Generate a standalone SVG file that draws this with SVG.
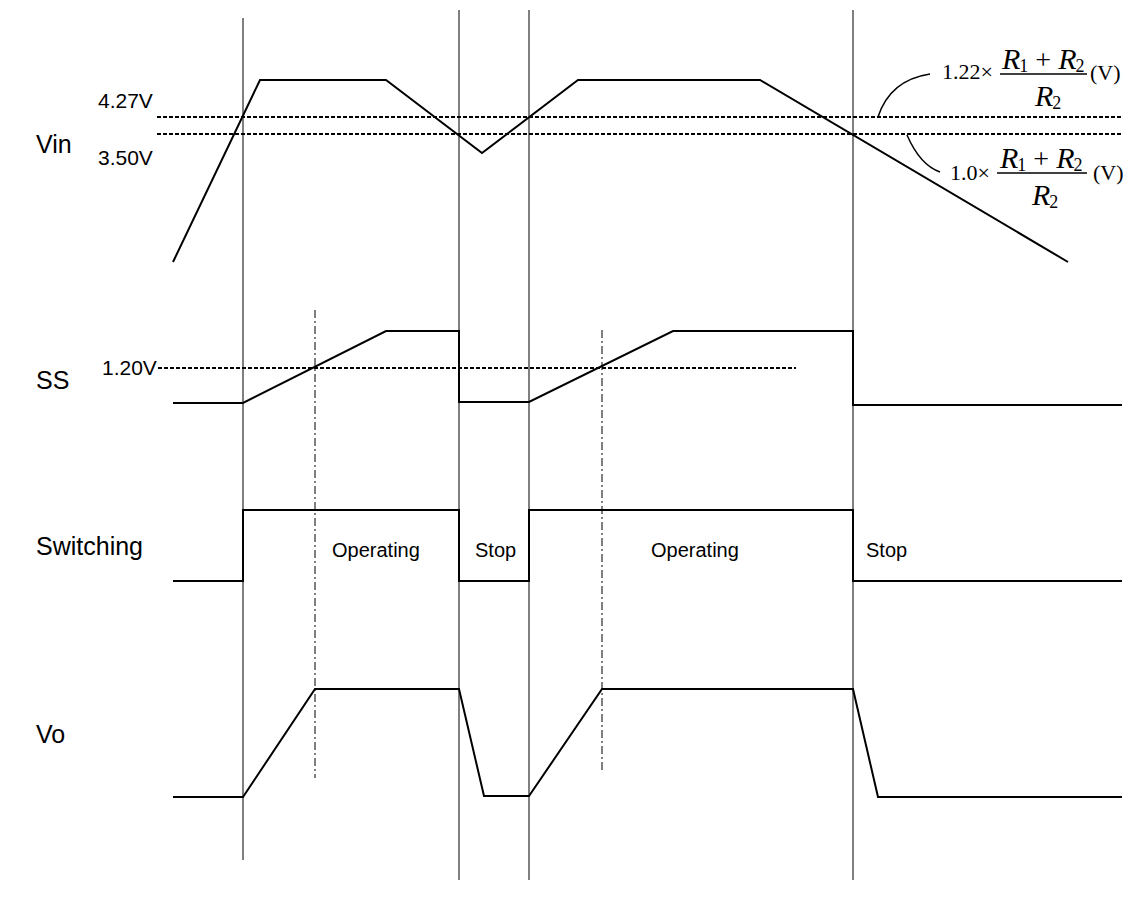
<svg xmlns="http://www.w3.org/2000/svg" width="1135" height="905" viewBox="0 0 1135 905">
<style>
.bg{fill:#fff}
.vl{stroke:#000;stroke-width:1;fill:none}
.dd{stroke:#000;stroke-width:1;fill:none;stroke-dasharray:8,3,2,3}
.dash{stroke:#000;stroke-width:2;fill:none;stroke-dasharray:4,2}
.wave{stroke:#000;stroke-width:2;fill:none;stroke-linejoin:miter}
.lbl{font-family:"Liberation Sans",Arial,sans-serif;fill:#000}
.big{font-size:25px}
.mid{font-size:21px}
.sm{font-size:20px}
.eq{font-family:"Liberation Serif","Times New Roman",serif;fill:#000;font-size:22px}
.it{font-style:italic;font-size:30px}
.pl{font-size:28px}
.sub{font-size:18px}
.lead{stroke:#000;stroke-width:1.5;fill:none}
</style>
<rect class="bg" x="0" y="0" width="1135" height="905"/>
<g id="connectors">
<line class="vl" x1="243" y1="18" x2="243" y2="860"/>
<line class="vl" x1="459" y1="10" x2="459" y2="880"/>
<line class="vl" x1="529" y1="10" x2="529" y2="880"/>
<line class="vl" x1="853" y1="10" x2="853" y2="880"/>
<line class="dd" x1="315" y1="310" x2="315" y2="778"/>
<line class="dd" x1="602" y1="330" x2="602" y2="773"/>
<line class="dash" x1="157" y1="117" x2="1122" y2="117"/>
<line class="dash" x1="157" y1="134" x2="1122" y2="134"/>
<line class="dash" x1="158" y1="368" x2="796" y2="368"/>
<path class="lead" d="M878,117 Q890,80 930,74"/>
<path class="lead" d="M907,135 Q920,165 940,172"/>
</g>
<g id="vin-wave"><polyline class="wave" points="173,262 260,80 386,80 482,153 578,80 760,80 1068,262"/></g>
<g id="ss-wave"><polyline class="wave" points="173,403 243,403 386,331 459,331 459,402 529,402 673,331 853,331 853,405 1122,405"/></g>
<g id="sw-wave"><polyline class="wave" points="173,581 243,581 243,510 459,510 459,581 529,581 529,510 853,510 853,581 1122,581"/></g>
<g id="vo-wave"><polyline class="wave" points="173,797 243,797 315,689 459,689 484,796 529,796 602,689 853,689 878,797 1122,797"/></g>
<g id="label-vin"><text class="lbl big" x="36" y="153">Vin</text></g>
<g id="label-427"><text class="lbl mid" x="98" y="108">4.27V</text></g>
<g id="label-350"><text class="lbl mid" x="98" y="165">3.50V</text></g>
<g id="label-ss"><text class="lbl big" x="36" y="389">SS</text></g>
<g id="label-120"><text class="lbl mid" x="102" y="375">1.20V</text></g>
<g id="label-sw"><text class="lbl big" x="36" y="555">Switching</text></g>
<g id="label-vo"><text class="lbl big" x="36" y="743">Vo</text></g>
<g id="label-op1"><text class="lbl sm" x="332" y="557">Operating</text></g>
<g id="label-stop1"><text class="lbl sm" x="475" y="557">Stop</text></g>
<g id="label-op2"><text class="lbl sm" x="651" y="557">Operating</text></g>
<g id="label-stop2"><text class="lbl sm" x="866" y="557">Stop</text></g>
<g id="formula-top">
<text class="eq" x="942" y="79">1.22×</text>
<text class="eq" x="1002" y="69"><tspan class="it">R</tspan><tspan class="sub" dx="-1" dy="3">1</tspan><tspan class="pl" dy="-3"> + </tspan><tspan class="it">R</tspan><tspan class="sub" dx="-1" dy="3">2</tspan></text>
<line x1="1000" y1="74" x2="1087" y2="74" stroke="#000" stroke-width="1.5"/>
<text class="eq" x="1035" y="106"><tspan class="it">R</tspan><tspan class="sub" dx="-1" dy="3">2</tspan></text>
<text class="eq" x="1090" y="80">(V)</text>
</g>
<g id="formula-bottom">
<text class="eq" x="950" y="180">1.0×</text>
<text class="eq" x="1000" y="168"><tspan class="it">R</tspan><tspan class="sub" dx="-1" dy="3">1</tspan><tspan class="pl" dy="-3"> + </tspan><tspan class="it">R</tspan><tspan class="sub" dx="-1" dy="3">2</tspan></text>
<line x1="997" y1="173" x2="1087" y2="173" stroke="#000" stroke-width="1.5"/>
<text class="eq" x="1032" y="205"><tspan class="it">R</tspan><tspan class="sub" dx="-1" dy="3">2</tspan></text>
<text class="eq" x="1093" y="180">(V)</text>
</g>
</svg>
